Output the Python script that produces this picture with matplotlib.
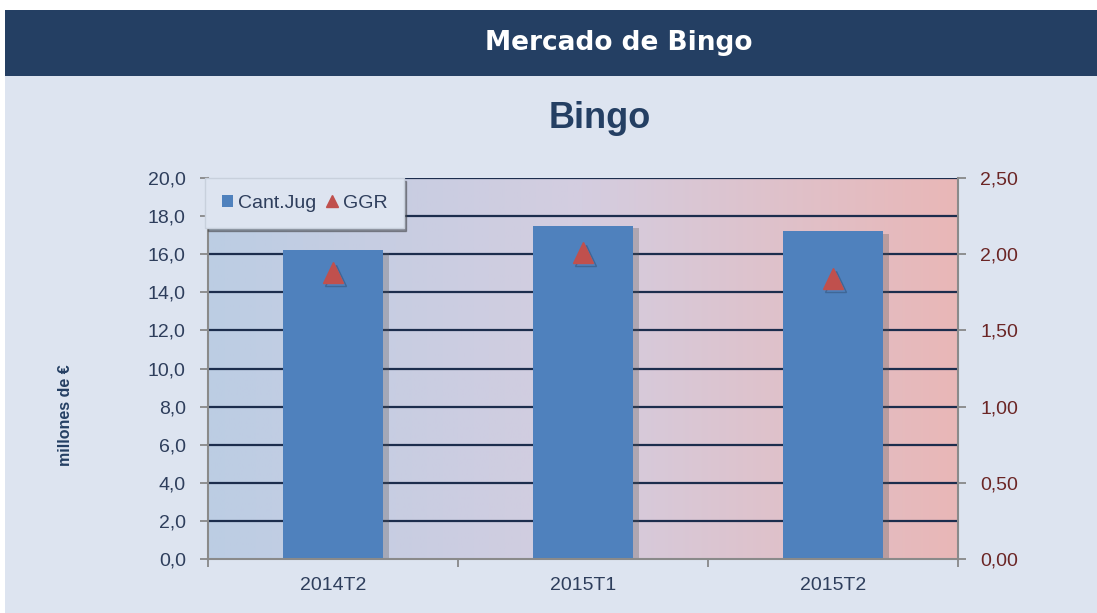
import matplotlib.pyplot as plt
import matplotlib.patheffects as pe
from matplotlib.colors import LinearSegmentedColormap
from matplotlib.patches import Rectangle, Patch
from matplotlib.lines import Line2D
import numpy as np

categories = ["2014T2", "2015T1", "2015T2"]
cant_jug = [16.2, 17.5, 17.2]
ggr = [1.88, 2.01, 1.84]
left_ticks = [0, 2, 4, 6, 8, 10, 12, 14, 16, 18, 20]
right_ticks = [0, 0.5, 1.0, 1.5, 2.0, 2.5]

plt.rcParams['font.family'] = ['Liberation Sans', 'DejaVu Sans']

fig = plt.figure(figsize=(10.97, 6.13), dpi=100)
fig.patch.set_facecolor("white")

# page background and header band
fig.patches.append(Rectangle((5 / 1097, 0), 1, 1 - 76 / 613, transform=fig.transFigure,
                             facecolor="#dde4f0", edgecolor="none", zorder=-2))
fig.patches.append(Rectangle((5 / 1097, 1 - 76 / 613), 1, 66 / 613, transform=fig.transFigure,
                             facecolor="#243f63", edgecolor="none", zorder=-2))
fig.text(619 / 1097, 1 - 43 / 613, "Mercado de Bingo", color="white", fontsize=19,
         fontweight="bold", ha="center", va="center", family="DejaVu Sans")
fig.text(600 / 1097, 1 - 119 / 613, "Bingo", color="#243f63", fontsize=26,
         fontweight="bold", ha="center", va="center")

ax1 = fig.add_axes([208 / 1097, 1 - 559 / 613, 750 / 1097, 381 / 613])
ax2 = ax1.twinx()
ax1.patch.set_visible(False)
ax2.patch.set_visible(False)

# gradient plot area
cmap = LinearSegmentedColormap.from_list("bg", ["#bccde4", "#d4cde0", "#e9b7b7"])
grad = np.linspace(0, 1, 256).reshape(1, -1)
ax1.imshow(grad, cmap=cmap, aspect="auto", extent=(-0.5, 2.5, 0, 20), zorder=0)

x = np.arange(len(categories))
for yv in left_ticks[1:]:
    ax1.axhline(yv, color="#1c2d4d", lw=1.6, zorder=1)

shadow = [pe.SimplePatchShadow(offset=(4, -2), shadow_rgbFace="#555555", alpha=0.3), pe.Normal()]
bars = ax1.bar(x, cant_jug, width=0.4, color="#4f81bd", zorder=2)
for b in bars:
    b.set_path_effects(shadow)

ax1.set_xlim(-0.5, 2.5)
ax1.set_ylim(0, 20)
ax2.set_ylim(0, 2.5)

ax2.plot(x, ggr, linestyle="none", marker="^", markersize=15, color="#c0504d",
         markeredgecolor="#c0504d", zorder=3,
         path_effects=[pe.SimpleLineShadow(offset=(2, -2), alpha=0.2), pe.Normal()])

ax1.set_yticks(left_ticks)
ax1.set_yticklabels([f"{v:.1f}".replace(".", ",") for v in left_ticks])
ax2.set_yticks(right_ticks)
ax2.set_yticklabels([f"{v:.2f}".replace(".", ",") for v in right_ticks])
ax1.set_xticks(x)
ax1.set_xticklabels(categories)
ax1.set_xticks([-0.5, 0.5, 1.5, 2.5], minor=True)
ax1.tick_params(axis="x", which="major", length=0, labelsize=14, colors="#2e3e5c", pad=13)
ax1.tick_params(axis="x", which="minor", length=6, color="#808080", width=1.2)
ax1.tick_params(axis="y", labelsize=14, colors="#2e3e5c", length=6, width=1.2, pad=10)
ax1.tick_params(axis="y", color="#808080")
ax2.tick_params(axis="y", labelsize=14, labelcolor="#6b2525", color="#808080",
                length=6, width=1.2, pad=10)

for ax in (ax1, ax2):
    for s in ax.spines.values():
        s.set_visible(False)
ax1.spines["left"].set_visible(True)
ax1.spines["bottom"].set_visible(True)
ax2.spines["right"].set_visible(True)
for s in (ax1.spines["left"], ax1.spines["bottom"], ax2.spines["right"]):
    s.set_color("#8a8a8a")
    s.set_linewidth(1.5)

ax1.set_ylabel("millones de €", fontsize=11.5, fontweight="bold", color="#243f63")
ax1.yaxis.set_label_coords(-0.18, 0.378)

handles = [Patch(facecolor="#4f81bd", edgecolor="none"),
           Line2D([], [], linestyle="none", marker="^", markersize=9, color="#c0504d")]
leg = ax2.legend(handles, ["Cant.Jug", "GGR"], loc="upper left", bbox_to_anchor=(-0.004, 1.0),
                 fontsize=14, frameon=True, fancybox=False, shadow=True,
                 handlelength=0.6, handleheight=0.6, handletextpad=0.25,
                 columnspacing=0.5, ncol=2, borderpad=0.85, borderaxespad=0)
leg.get_frame().set_facecolor("#dde4f0")
leg.get_frame().set_edgecolor("#c8d0dc")
leg.set_zorder(10)
for t in leg.get_texts():
    t.set_color("#2e3e5c")

fig.savefig("out.png", dpi=100)
